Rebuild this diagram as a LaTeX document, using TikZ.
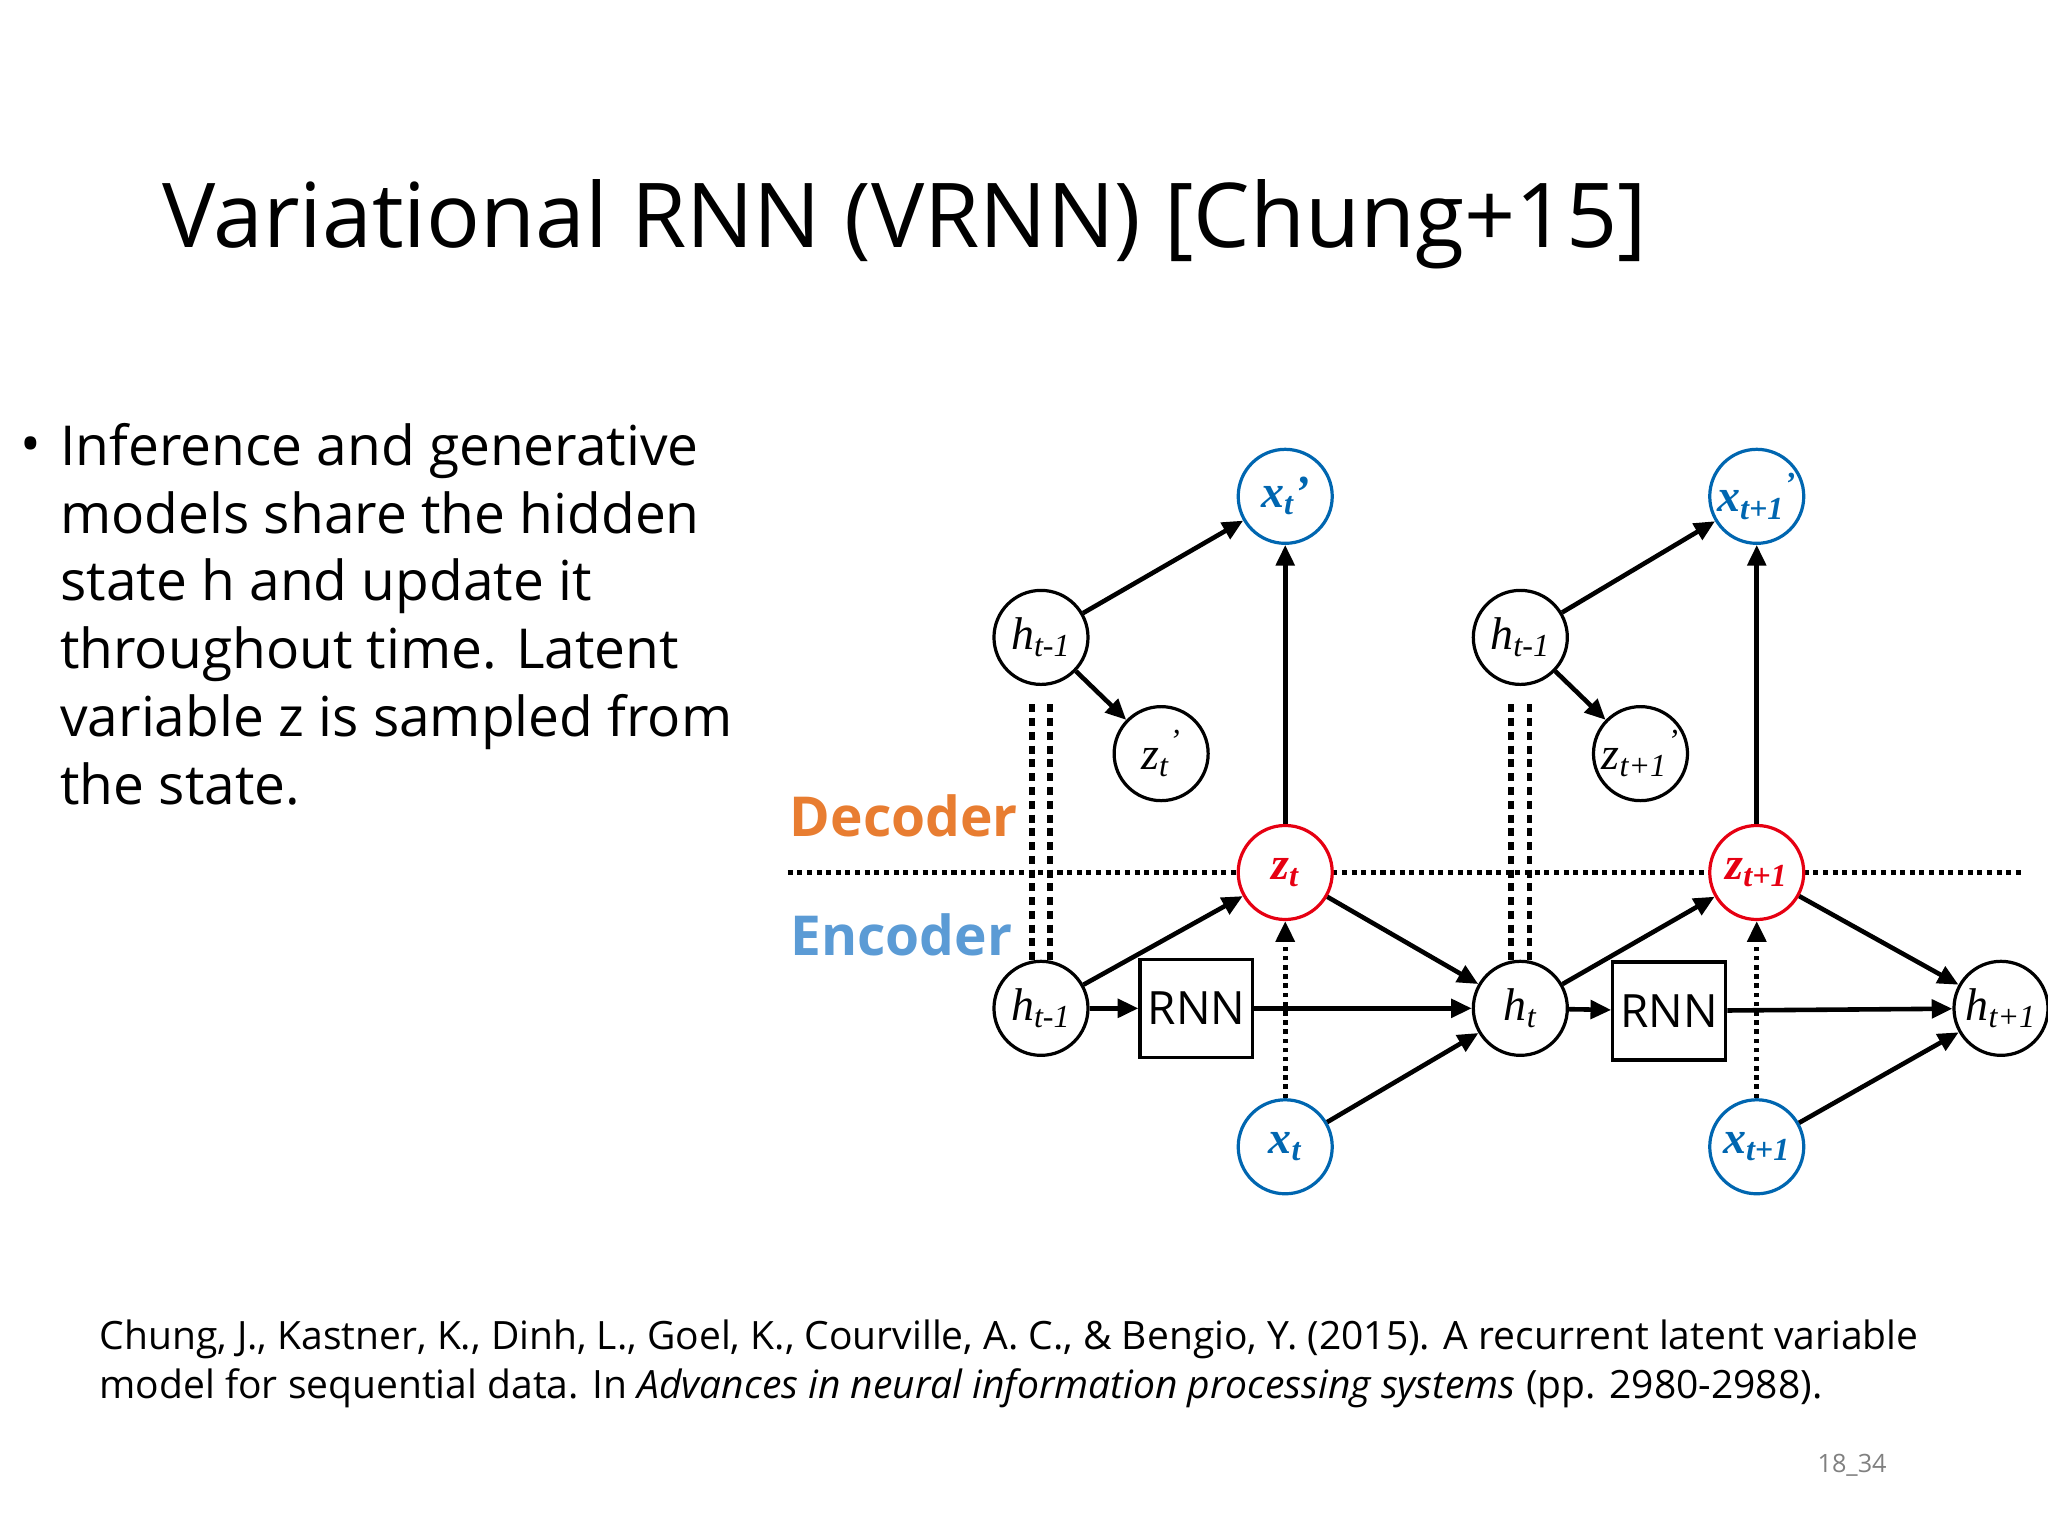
\documentclass[tikz,border=0pt]{standalone}
\usepackage{fontspec}
\setmainfont{Open Sans}
\newfontfamily\tms{Liberation Serif}
\usetikzlibrary{arrows.meta}
\definecolor{bl}{RGB}{0,102,176}
\definecolor{rd}{RGB}{230,0,18}
\definecolor{orng}{RGB}{232,125,49}
\definecolor{encb}{RGB}{91,155,213}
\begin{document}
\begin{tikzpicture}[x=0.02cm,y=-0.02cm,
 nd/.style={circle,draw,line width=1.4pt,minimum size=1.44cm,inner sep=0pt,font=\tms\fontsize{20}{20}\selectfont\itshape},
 bn/.style={nd,draw=bl,text=bl,font=\tms\fontsize{20}{20}\selectfont\bfseries\itshape},
 rn/.style={nd,draw=rd,text=rd,font=\tms\fontsize{20}{20}\selectfont\bfseries\itshape},
 box/.style={draw,line width=1.4pt,minimum width=1.6cm,minimum height=1.5cm,font=\fontsize{20}{20}\selectfont},
 ar/.style={-{Triangle[length=9pt,width=8pt]},line width=2pt},
 dar/.style={ar,dotted,line width=2.2pt}]
\useasboundingbox (0,0) rectangle (1568,1176);
\node[anchor=west,font=\fontsize{39}{39}\selectfont] (title) at (118,172) {Variational RNN (VRNN) [Chung+15]};
\node[anchor=north west,align=left,font=\fontsize{24}{29.5}\selectfont] (bul) at (40,318)
 {Inference and generative\\models share the hidden\\state h and update it\\throughout time. Latent\\variable z is sampled from\\the state.};
\node[font=\fontsize{24}{24}\selectfont] (dot) at (24,345) {•};
\node[anchor=west,align=left,font=\fontsize{17}{21.5}\selectfont] (ref) at (70,1044)
 {Chung, J., Kastner, K., Dinh, L., Goel, K., Courville, A. C., \& Bengio, Y. (2015). A recurrent latent variable\\model for sequential data. In \textit{Advances in neural information processing systems} (pp. 2980-2988).};
\node[text=gray,font=\fontsize{11}{11}\selectfont] (pg) at (1418,1122) {18\_34};
\node[text=orng,font=\fontsize{24}{24}\selectfont\bfseries] (dec) at (692,625) {Decoder};
\node[text=encb,font=\fontsize{24}{24}\selectfont\bfseries] (enc) at (690,716) {Encoder};
\draw[dotted,line width=2.2pt] (603,668) -- (948,668) (1020,668) -- (1309,668) (1381,668) -- (1548,668);
\node[bn] (xa) at (984,380) {x\textsubscript{t}’};
\node[bn] (xb) at (1345,380) {x\textsubscript{t+1}\textsuperscript{’}};
\node[nd] (ha) at (797,488) {h\textsubscript{t-1}};
\node[nd] (za) at (889,577) {z\textsubscript{t}\textsuperscript{’}};
\node[nd] (hb) at (1164,488) {h\textsubscript{t-1}};
\node[nd] (zb) at (1256,577) {z\textsubscript{t+1}\textsuperscript{’}};
\node[rn] (zt) at (984,668) {z\textsubscript{t}};
\node[rn] (zt1) at (1345,668) {z\textsubscript{t+1}};
\node[nd] (h0) at (797,772) {h\textsubscript{t-1}};
\node[nd] (h1) at (1164,772) {h\textsubscript{t}};
\node[nd] (h2) at (1532,772) {h\textsubscript{t+1}};
\node[box] (r1) at (916,772) {RNN};
\node[box] (r2) at (1278,774) {RNN};
\node[bn] (x1) at (984,878) {x\textsubscript{t}};
\node[bn] (x2) at (1345,878) {x\textsubscript{t+1}};
\foreach \n/\m in {ha/h0,hb/h1}{
 \draw[dash pattern=on 3.5pt off 2.5pt,line width=2.4pt] ([xshift=-4,yshift=-8]\n.south) -- ([xshift=-4]\m.north);
 \draw[dash pattern=on 3.5pt off 2.5pt,line width=2.4pt] ([xshift=4,yshift=-8]\n.south) -- ([xshift=4]\m.north);}
\draw[ar] (ha) -- (xa); \draw[ar] (ha) -- (za); \draw[ar] (zt) -- (xa);
\draw[ar] (hb) -- (xb); \draw[ar] (hb) -- (zb); \draw[ar] (zt1) -- (xb);
\draw[ar] (h0) -- (zt); \draw[ar] (zt) -- (h1); \draw[ar] (h0) -- (r1); \draw[ar] (r1) -- (h1); \draw[ar] (x1) -- (h1); \draw[dar] (x1) -- (zt);
\draw[ar] (h1) -- (zt1); \draw[ar] (zt1) -- (h2); \draw[ar] (h1) -- (r2); \draw[ar] (r2) -- (h2); \draw[ar] (x2) -- (h2); \draw[dar] (x2) -- (zt1);
\end{tikzpicture}
\end{document}
